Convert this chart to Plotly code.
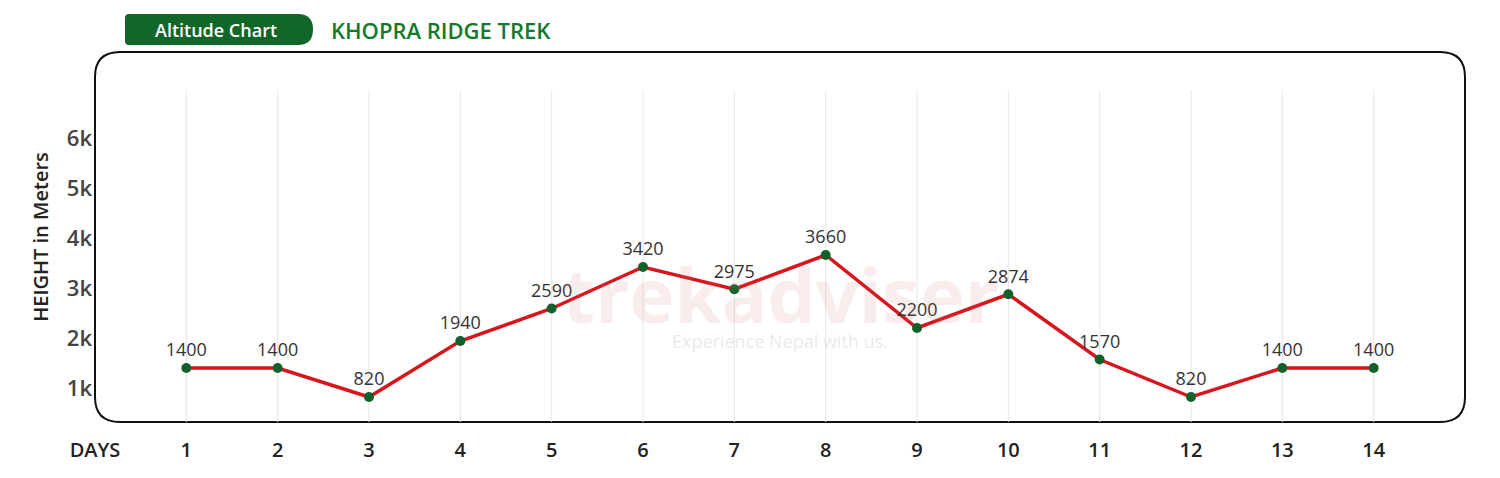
import plotly.graph_objects as go

days = list(range(1, 15))
heights = [1400, 1400, 820, 1940, 2590, 3420, 2975, 3660, 2200, 2874, 1570, 820, 1400, 1400]
labels = [str(h) for h in heights]
ytickvals = [1000, 2000, 3000, 4000, 5000, 6000]
yticktext = ["1k", "2k", "3k", "4k", "5k", "6k"]
xtickvals = [0] + days
xticktext = ["DAYS"] + [str(d) for d in days]

W, H = 1370.0, 370.0
def px(x): return (x - 95) / W
def py(y): return (478 - 56 - y) / H

FONT = "Open Sans"
fig = go.Figure()
fig.add_annotation(x=7.5, y=2900, text="trekadviser", showarrow=False,
                   font=dict(size=76, color="rgba(200,110,110,0.13)", family=FONT, weight=700), xref="x", yref="y")
fig.add_annotation(x=7.5, y=1950, text="Experience Nepal with us.", showarrow=False,
                   font=dict(size=18, color="rgba(150,150,150,0.22)", family=FONT), xref="x", yref="y")
for d in days:
    fig.add_shape(type="line", x0=d, x1=d, y0=320, y1=6960, xref="x", yref="y",
                  line=dict(color="#e6e6e6", width=1), layer="below")
fig.add_trace(go.Scatter(x=days, y=heights, mode="lines+markers+text", text=labels,
                         textposition="top center", cliponaxis=False,
                         textfont=dict(size=18, color="#333", family=FONT, weight=500),
                         line=dict(color="#d7151d", width=3.5),
                         marker=dict(color="#11622a", size=10)))
r = 25.0
rx, ry = r / W, r / H
path = (f"M {rx} 0 L {1-rx} 0 Q 1 0 1 {ry} L 1 {1-ry} Q 1 1 {1-rx} 1 "
        f"L {rx} 1 Q 0 1 0 {1-ry} L 0 {ry} Q 0 0 {rx} 0 Z")
fig.add_shape(type="path", path=path, xref="paper", yref="paper",
              line=dict(color="#111", width=2), layer="below")
x0, x1, y0, y1, rr = 125, 313, 14, 45, 15
fig.add_shape(type="path", xref="paper", yref="paper", fillcolor="#12662a", line=dict(width=0),
              path=(f"M {px(x0+4)} {py(y0)} L {px(x1-rr)} {py(y0)} Q {px(x1)} {py(y0)} {px(x1)} {py((y0+y1)/2)} "
                    f"Q {px(x1)} {py(y1)} {px(x1-rr)} {py(y1)} L {px(x0+4)} {py(y1)} "
                    f"Q {px(x0)} {py(y1)} {px(x0)} {py(y1-4)} L {px(x0)} {py(y0+4)} Q {px(x0)} {py(y0)} {px(x0+4)} {py(y0)} Z"))
fig.add_annotation(x=px(216), y=py(30), xref="paper", yref="paper", text="Altitude Chart",
                   showarrow=False, yanchor="middle", xanchor="center",
                   font=dict(size=18, color="white", family=FONT, weight=600))
fig.add_annotation(x=px(329), y=py(30), xref="paper", yref="paper", text="KHOPRA RIDGE TREK",
                   showarrow=False, xanchor="left", yanchor="middle",
                   font=dict(size=22, color="#137a2c", family=FONT, weight=600))
fig.update_layout(
    width=1500, height=478, margin=dict(l=95, r=35, t=52, b=56),
    plot_bgcolor="white", paper_bgcolor="white", showlegend=False,
    xaxis=dict(range=[0, 15], tickvals=xtickvals, ticktext=xticktext, showgrid=False,
               zeroline=False, ticks="", ticklabelstandoff=14, automargin=False,
               tickfont=dict(size=20, color="#222", family=FONT, weight=600)),
    yaxis=dict(range=[320, 7720], tickvals=ytickvals, ticktext=yticktext, showgrid=False,
               zeroline=False, ticks="", ticklabelstandoff=2, automargin=False,
               tickfont=dict(size=22, color="#444", family=FONT, weight=600),
               title=dict(text="HEIGHT in Meters", standoff=12,
                          font=dict(size=20, color="#222", family=FONT, weight=600))),
)
fig.write_html("out.html", config={"displayModeBar": False},
               post_script="document.body.style.margin='0';")
